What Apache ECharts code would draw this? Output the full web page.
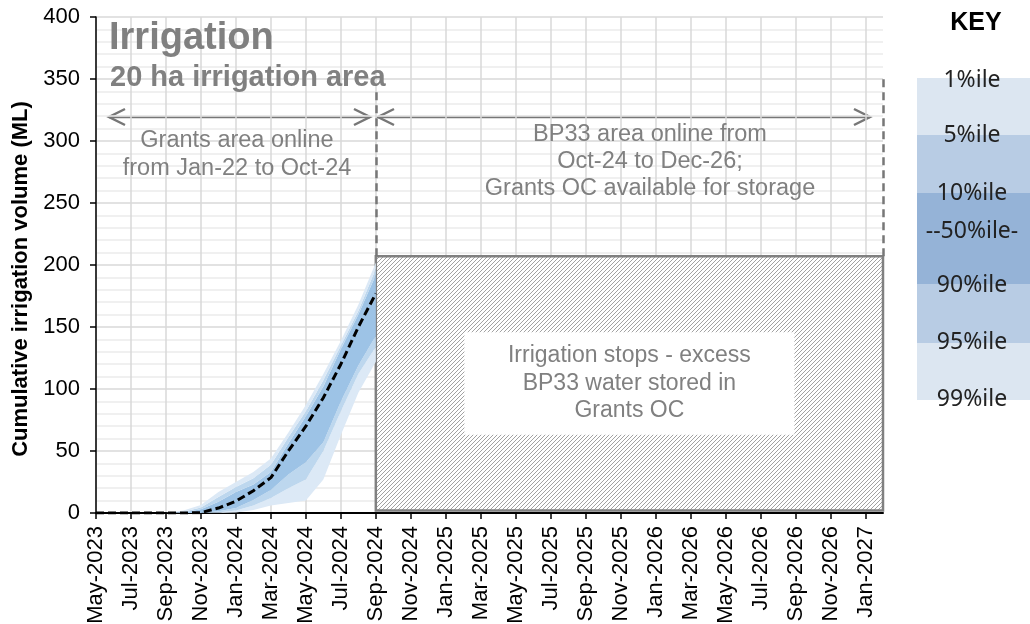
<!DOCTYPE html>
<html>
<head>
<meta charset="utf-8">
<script src="https://cdn.jsdelivr.net/npm/echarts@6/dist/echarts.min.js"></script>
<style>
  html, body { margin: 0; padding: 0; background: #fff; }
  #main { width: 1030px; height: 624px; }
</style>
</head>
<body>
<div id="main"></div>
<script>
// month categories, May-2023 .. Feb-2027
var months = [
  "May-2023", "Jun-2023", "Jul-2023", "Aug-2023", "Sep-2023", "Oct-2023", "Nov-2023", "Dec-2023",
  "Jan-2024", "Feb-2024", "Mar-2024", "Apr-2024", "May-2024", "Jun-2024", "Jul-2024", "Aug-2024",
  "Sep-2024", "Oct-2024", "Nov-2024", "Dec-2024", "Jan-2025", "Feb-2025", "Mar-2025", "Apr-2025",
  "May-2025", "Jun-2025", "Jul-2025", "Aug-2025", "Sep-2025", "Oct-2025", "Nov-2025", "Dec-2025",
  "Jan-2026", "Feb-2026", "Mar-2026", "Apr-2026", "May-2026", "Jun-2026", "Jul-2026", "Aug-2026",
  "Sep-2026", "Oct-2026", "Nov-2026", "Dec-2026", "Jan-2027", "Feb-2027"
];

// cumulative irrigation volume (ML) percentiles, May-2023 .. Sep-2024
var p1  = [0, 0, 0, 0, 0, 0, 0, 0, 0.5, 2.5, 6, 8, 10, 27, 63, 97, 122];
var p5  = [0, 0, 0, 0, 0, 0, 0, 0.5, 2, 6, 12, 20, 27, 50, 82, 112, 134];
var p10 = [0, 0, 0, 0, 0, 0, 0, 1.5, 4, 10.5, 18.5, 31, 41, 57, 90, 119, 143];
var p50 = [0, 0, 0, 0, 0, 0, 0.3, 4, 9.5, 18, 28.5, 50, 70, 93, 120, 150, 177];
var p90 = [0, 0, 0, 0, 0, 0.5, 3, 9, 17, 23, 33, 56, 78, 102, 132, 160, 192];
var p95 = [0, 0, 0, 0, 0, 1, 4.5, 13, 21, 28, 39, 61, 82, 107, 135, 163, 197];
var p99 = [0, 0, 0, 0, 0, 2, 6.5, 17, 25, 33, 44, 65, 87, 112, 139, 168, 202];

// annotation extents
var storeStart = "Sep-2024";
var storeEnd = "Feb-2027";
var storeBox = [2, 207];
var dividerTop = [341, 352];

var keyLabels = ["1%ile", "5%ile", "10%ile", "--50%ile-", "90%ile", "95%ile", "99%ile"];

var light = "#dce9f6", mid = "#bdd7ee", dark = "#9dc3e6";
var grey = "#808080";

// band thickness between two percentile lines (for stacking)
function band(top, bottom) {
  return top.map(function (v, i) { return +(v - bottom[i]).toFixed(2); });
}

// diagonal hatch pattern
function hatch() {
  var c = document.createElement("canvas");
  c.width = 4; c.height = 4;
  var ctx = c.getContext("2d");
  ctx.fillStyle = "#fff";
  ctx.fillRect(0, 0, 4, 4);
  ctx.strokeStyle = "#a2a2a2";
  ctx.lineWidth = 1;
  ctx.beginPath();
  ctx.moveTo(-1, 5); ctx.lineTo(5, -1);
  ctx.moveTo(-1, 1); ctx.lineTo(1, -1);
  ctx.moveTo(3, 5); ctx.lineTo(5, 3);
  ctx.stroke();
  return c;
}

function bandSeries(name, data, color) {
  return {
    name: name,
    type: "line",
    stack: "pct",
    data: data,
    symbol: "none",
    lineStyle: { width: 0, opacity: 0 },
    areaStyle: { color: color, opacity: 1 },
    silent: true,
    z: 2
  };
}

function arrow(x1, x2, y) {
  return [
    { type: "line", shape: { x1: x1, y1: y, x2: x2, y2: y }, style: { stroke: "#777", lineWidth: 2.5 } },
    { type: "polyline", shape: { points: [[x1 + 16, y - 8], [x1, y], [x1 + 16, y + 8]] }, style: { stroke: "#777", lineWidth: 2.5, fill: null } },
    { type: "polyline", shape: { points: [[x2 - 16, y - 8], [x2, y], [x2 - 16, y + 8]] }, style: { stroke: "#777", lineWidth: 2.5, fill: null } }
  ];
}

var myChart = echarts.init(document.getElementById("main"));

// key on the right
var keyBands = [
  [78, 135, "#dce6f1"], [135, 193, "#b8cce4"], [193, 284, "#95b3d7"],
  [284, 343, "#b8cce4"], [343, 400, "#dce6f1"]
];
var keyY = [80, 135, 193, 231, 285, 342, 399];
var graphics = [];
keyBands.forEach(function (b) {
  graphics.push({ type: "rect", shape: { x: 917, y: b[0], width: 113, height: b[1] - b[0] }, style: { fill: b[2] }, z: 1 });
});
keyLabels.forEach(function (t, i) {
  graphics.push({
    type: "text", x: 972, y: keyY[i], z: 2,
    style: { text: t, font: '23px "Noto Sans"', fill: "#222", textAlign: "center", textVerticalAlign: "middle" }
  });
});
graphics.push({
  type: "text", x: 976, y: 23,
  style: { text: "KEY", font: 'bold 25px "Liberation Sans"', fill: "#000", textAlign: "center", textVerticalAlign: "middle" }
});
// titles and notes
graphics.push({
  type: "text", x: 109, y: 39, z: 10,
  style: { text: "Irrigation", font: 'bold 38px "Liberation Sans"', fill: grey, textVerticalAlign: "middle" }
});
graphics.push({
  type: "text", x: 110, y: 78, z: 10,
  style: { text: "20 ha irrigation area", font: 'bold 29px "Liberation Sans"', fill: grey, textVerticalAlign: "middle" }
});
graphics.push({
  type: "text", x: 237, y: 155, z: 10,
  style: { text: "Grants area online\nfrom Jan-22 to Oct-24", font: '23.5px "Liberation Sans"', lineHeight: 28, fill: grey, textAlign: "center", textVerticalAlign: "middle" }
});
graphics.push({
  type: "text", x: 650, y: 162, z: 10,
  style: { text: "BP33 area online from\nOct-24 to Dec-26;\nGrants OC available for storage", font: '23.5px "Liberation Sans"', lineHeight: 27, fill: grey, textAlign: "center", textVerticalAlign: "middle" }
});
graphics.push({
  type: "text", x: 21, y: 279, rotation: Math.PI / 2,
  style: { text: "Cumulative irrigation volume (ML)", font: 'bold 22px "Liberation Sans"', fill: "#000", textAlign: "center", textVerticalAlign: "middle" }
});
graphics = graphics.concat(arrow(109, 370, 117), arrow(378, 870, 117));

var options = {
  backgroundColor: "#fff",
  animation: false,
  grid: { left: 96, right: 147, top: 17, bottom: 111, outerBoundsMode: "none" },
  xAxis: {
    type: "category",
    data: months,
    boundaryGap: false,
    axisLine: { lineStyle: { color: "#000", width: 2 } },
    axisTick: { show: true, interval: 1, length: 6, lineStyle: { color: "#000", width: 1.5 } },
    axisLabel: { interval: 1, rotate: 90, margin: 13, color: "#000", fontSize: 22, fontFamily: "Liberation Sans" },
    splitLine: { show: true, interval: 1, lineStyle: { color: "#d9d9d9", width: 1.5 } }
  },
  yAxis: {
    type: "value",
    min: 0,
    max: 400,
    interval: 50,
    axisLine: { show: true, lineStyle: { color: "#000", width: 1.5 } },
    axisTick: { show: true, length: 6, lineStyle: { color: "#000", width: 1.5 } },
    axisLabel: { color: "#000", fontSize: 22, fontFamily: "Liberation Sans", margin: 16 },
    splitLine: { lineStyle: { color: "#d9d9d9", width: 1.5 } },
    minorTick: { show: false, splitNumber: 5 },
    minorSplitLine: { show: true, lineStyle: { color: "#ebebeb", width: 1.5 } }
  },
  series: [
    {
      name: "p1",
      type: "line",
      stack: "pct",
      data: p1,
      symbol: "none",
      lineStyle: { width: 0, opacity: 0 },
      silent: true
    },
    bandSeries("p1-p5", band(p5, p1), light),
    bandSeries("p5-p10", band(p10, p5), mid),
    bandSeries("p10-p90", band(p90, p10), dark),
    bandSeries("p90-p95", band(p95, p90), mid),
    bandSeries("p95-p99", band(p99, p95), light),
    {
      name: "50%ile",
      type: "line",
      data: p50,
      symbol: "none",
      z: 5,
      lineStyle: { color: "#000", width: 3, type: [8, 4] },
      markArea: {
        silent: true,
        itemStyle: { color: { image: hatch(), repeat: "repeat" }, borderColor: grey, borderWidth: 2.5 },
        label: {
          show: true,
          position: "inside",
          formatter: "Irrigation stops - excess\nBP33 water stored in\nGrants OC",
          color: grey,
          fontSize: 23,
          fontFamily: "Liberation Sans",
          lineHeight: 27.5,
          backgroundColor: "#fff",
          width: 330,
          align: "center",
          padding: [10, 0, 10, 0]
        },
        data: [[{ coord: [storeStart, storeBox[0]] }, { coord: [storeEnd, storeBox[1]] }]]
      },
      markLine: {
        silent: true,
        symbol: "none",
        label: { show: false },
        lineStyle: { color: "#777", width: 2.5, type: [8, 5] },
        data: [
          [{ coord: [storeStart, storeBox[1]] }, { coord: [storeStart, dividerTop[0]] }],
          [{ coord: [storeEnd, storeBox[1]] }, { coord: [storeEnd, dividerTop[1]] }]
        ]
      }
    }
  ],
  graphic: graphics
};
myChart.setOption(options);
</script>
</body>
</html>
